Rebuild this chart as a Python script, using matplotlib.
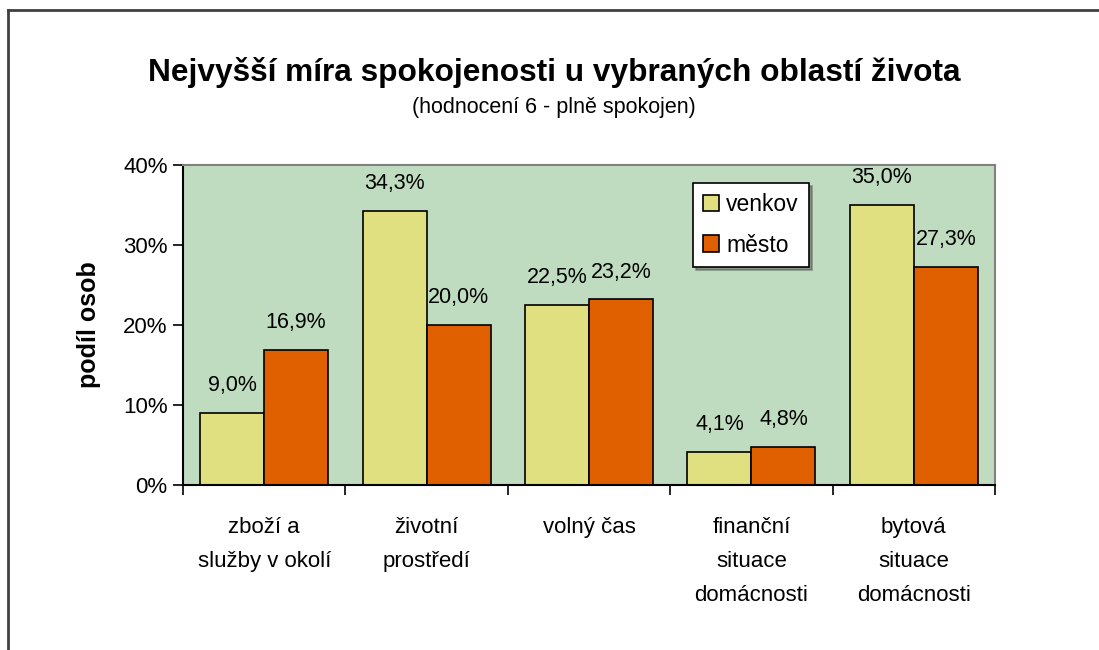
import numpy as np
import matplotlib.pyplot as plt

plt.rcParams['font.family'] = ['Liberation Sans', 'DejaVu Sans']

# ==========================
# data
# ==========================
categories = ["zboží a\nslužby v okolí", "životní\nprostředí", "volný čas",
              "finanční\nsituace\ndomácnosti", "bytová\nsituace\ndomácnosti"]
venkov = [9.0, 34.3, 22.5, 4.1, 35.0]
mesto = [16.9, 20.0, 23.2, 4.8, 27.3]
series_names = ["venkov", "město"]
yticks = [0, 10, 20, 30, 40]

# ==========================
# figure
# ==========================
fig = plt.figure(figsize=(10.99, 6.5), dpi=100)
ax = fig.add_axes([0.1665, 0.2538, 0.7389, 0.4923])
ax.set_facecolor("#C0DCC0")

# outer frame (only top + left are visible in the original)
fig.add_artist(plt.Line2D([8 / 1099, 8 / 1099], [0, 1 - 10 / 650],
                          transform=fig.transFigure, color="#404040", lw=2))
fig.add_artist(plt.Line2D([8 / 1099, 1], [1 - 10 / 650, 1 - 10 / 650],
                          transform=fig.transFigure, color="#404040", lw=2))

x = np.arange(len(categories))
w = 0.394
b1 = ax.bar(x - w / 2, venkov, w, color="#E0E080", edgecolor="black",
            linewidth=1.2, label=series_names[0], zorder=2)
b2 = ax.bar(x + w / 2, mesto, w, color="#E06000", edgecolor="black",
            linewidth=1.2, label=series_names[1], zorder=2)

# popisky hodnot
for bars, vals in ((b1, venkov), (b2, mesto)):
    for r, v in zip(bars, vals):
        ax.text(r.get_x() + r.get_width() / 2, v + 2.1,
                f"{v:.1f}%".replace(".", ","), ha="center", va="bottom",
                fontsize=15.5)

ax.set_xlim(-0.5, len(categories) - 0.5)
ax.set_ylim(0, 40)
ax.set_yticks(yticks)
ax.set_yticklabels([f"{t}%" for t in yticks], fontsize=16)
ax.tick_params(axis="y", direction="out", length=7, width=1.2, pad=4)

ax.set_xticks(x)
ax.set_xticklabels(categories, fontsize=16, linespacing=1.8, va="top")
ax.tick_params(axis="x", which="major", length=0, pad=23)
ax.set_xticks(np.arange(len(categories) + 1) - 0.5, minor=True)
ax.tick_params(axis="x", which="minor", direction="out", length=7, width=1.2)

for s in ("top", "right"):
    ax.spines[s].set_color("#808080")
    ax.spines[s].set_linewidth(1.5)
for s in ("left", "bottom"):
    ax.spines[s].set_color("black")
    ax.spines[s].set_linewidth(1.5)

ax.set_ylabel("podíl osob", fontsize=18, fontweight="bold", labelpad=16)

# titulky
fig.text(0.504, 1 - 73 / 650, "Nejvyšší míra spokojenosti u vybraných oblastí života",
         ha="center", va="center", fontsize=22.8, fontweight="bold")
fig.text(0.504, 1 - 108 / 650, "(hodnocení 6 - plně spokojen)",
         ha="center", va="center", fontsize=15.5)

# legenda
leg = ax.legend(loc="upper left",
                bbox_to_anchor=((693 - 183) / 812, 1 - (183 - 165) / 320),
                fontsize=16.5, frameon=True, fancybox=False, shadow=True,
                edgecolor="black", framealpha=1, borderpad=0.45,
                handlelength=0.7, handleheight=0.7, handletextpad=0.3,
                labelspacing=0.75, borderaxespad=0)
leg.get_frame().set_linewidth(1.2)

plt.savefig("out.png", dpi=100)
